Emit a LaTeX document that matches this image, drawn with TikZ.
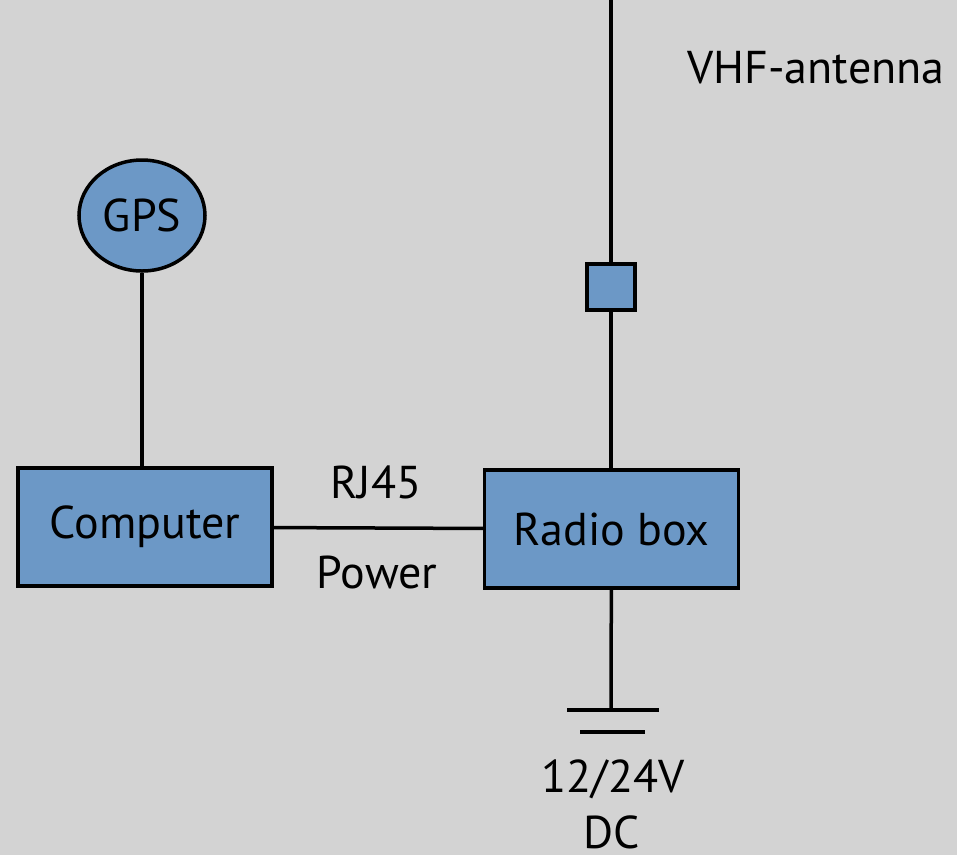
\documentclass[tikz,border=0pt]{standalone}
\usepackage{fontspec}
\setmainfont{PT Sans}
\usetikzlibrary{positioning}
\usetikzlibrary{shapes}
\definecolor{sfondo}{RGB}{211,211,211}
\definecolor{azzurro}{RGB}{108,152,198}
\begin{document}
\begin{tikzpicture}[x=1pt,y=-1pt,line width=3.5pt,
every node/.style={font=\fontsize{46}{56}\selectfont},
scatola/.style={draw,fill=azzurro,minimum width=254pt,minimum height=118pt,inner sep=0pt},
cerchio/.style={draw,fill=azzurro,ellipse,minimum width=126pt,minimum height=111pt,inner sep=0pt},
quadrato/.style={draw,fill=azzurro,minimum width=48pt,minimum height=46pt,inner sep=0pt},
testo/.style={anchor=base,inner sep=0pt}
]
\fill[sfondo] (0,0) rectangle (957,855);
\useasboundingbox (0,0) rectangle (957,855);
%--
\node[scatola](pc) at (145,527){Computer};
\node[scatola](radio) at (611.5,529){Radio box};
\node[cerchio](gps) at (142,215.5){GPS};
\draw (gps) -- (gps|-pc.north);
\draw (pc) -- (radio);
\node[testo](rj) at (376,498){RJ45};
\node[testo](pw) at (377,588){Power};
%--
\node[quadrato](conn) at (611,287){};
\coordinate (cima) at (611,0);
\draw (cima) -- (conn);
\draw (conn) -- (conn|-radio.north);
\node[testo](vhf) at (816,83){VHF-antenna};
%--
\coordinate (massa) at (611,710);
\draw (radio) -- (massa);
\coordinate (m1) at (567,710);
\coordinate (m2) at (659,710);
\coordinate (m3) at (580,732);
\coordinate (m4) at (645,732);
\draw (m1) -- (m2);
\draw (m3) -- (m4);
\node[testo](volt) at (613,792){12/24V};
\node[testo](dc) at (612,848){DC};
\end{tikzpicture}
\end{document}
